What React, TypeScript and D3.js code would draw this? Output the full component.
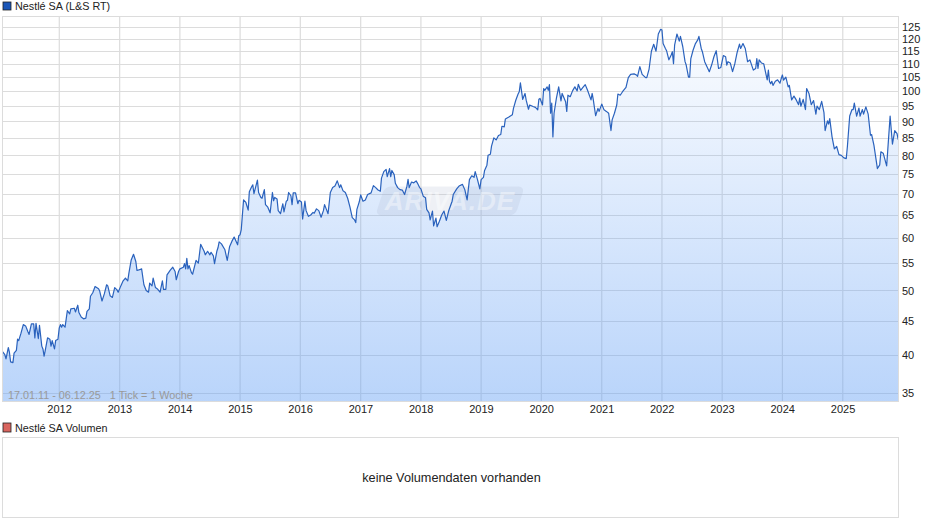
import * as d3 from "d3";

// [week of year, close], one list per year
const y2011 = [[3,40.4],[5,40],[6,39.4],[8,41],[9,40.3],[10,39],[12,38.9],[13,40.2],[15,40.6],[16,42.2],[17,42],[19,43.1],[21,44.4],[23,44.2],[25,43.3],[26,42.9],[28,44.5],[30,44.5],[31,42.4],[32,44.6],[34,42.3],[35,44.3],[37,41.2],[38,40.8],[39,39.8],[40,40.6],[42,42.4],[44,42.2],[45,41.2],[46,42],[48,40.8],[49,42],[51,42.2]];
const y2012 = [[0,43.9],[1,44.4],[2,44],[3,44.4],[5,44],[6,45.3],[7,46.6],[9,46.1],[10,46.9],[13,47],[14,46.4],[16,47.5],[17,46.3],[19,45.6],[21,45.3],[23,45.4],[24,46.5],[26,46.9],[27,49],[29,49.6],[31,50.7],[34,50.3],[35,49.9],[37,48.2],[39,49.4],[41,51],[42,50.8],[44,49.1],[46,48.8],[48,50.5],[50,50.1],[51,49.7]];
const y2013 = [[1,50.8],[3,51.7],[5,52.2],[7,51.7],[8,53.1],[10,55.6],[12,56.7],[14,55.3],[15,53.6],[18,53.8],[19,53.9],[21,51],[23,50],[25,49.7],[26,51.3],[28,50.8],[29,52.2],[31,50.5],[33,50.2],[35,49.7],[37,51.7],[38,50.2],[40,50.2],[41,52.8],[44,53.7],[46,54.2],[48,53.4],[49,51.9],[51,53.4]];
const y2014 = [[0,53.9],[3,54.2],[4,54.9],[5,53.9],[6,55.9],[7,53.9],[8,54.5],[10,53.2],[11,52.9],[14,55.5],[16,55],[18,58.7],[21,57.3],[22,56.6],[24,57.3],[26,56.6],[27,57.1],[29,56.4],[30,54.9],[32,57.3],[33,58],[34,59.2],[36,58.8],[39,57.6],[41,55.5],[43,58.2],[45,59.3],[47,60.2],[50,58.6],[51,60.5]];
const y2015 = [[0,60.7],[1,61.8],[3,68.5],[5,67.9],[7,66.1],[8,70.5],[10,71.7],[11,72.2],[12,70],[15,73.4],[16,70.3],[18,69.1],[19,68.9],[21,71],[22,67.4],[24,66.8],[26,65.5],[28,70.3],[29,68.3],[30,69.1],[32,68.7],[33,66],[35,65.3],[37,67.6],[38,65.7],[40,68.2],[41,68.4],[42,70.3],[44,69.5],[45,67.4],[46,70.2],[48,70.2],[50,67.6],[51,68.4]];
const y2016 = [[1,68],[2,64.1],[4,68.2],[5,66],[7,64.7],[9,65],[11,65.6],[12,65.4],[14,66.4],[16,66],[18,64.5],[20,66],[21,67.4],[23,66],[24,65.3],[26,70.3],[28,71.5],[30,71.9],[32,73.2],[34,71.5],[35,72.2],[37,70.7],[39,70.3],[41,68.9],[43,66.8],[45,64.4],[47,63.9],[48,63.3],[49,66.3],[51,68]];
const y2017 = [[0,69.7],[2,68.2],[4,68.5],[6,69.8],[9,70.2],[11,72],[13,71.5],[15,70.9],[17,70.6],[18,73.9],[20,75.6],[22,76.2],[23,74.3],[25,76.4],[26,74.3],[27,75.9],[29,74.8],[30,72.6],[32,71.5],[34,71],[36,70.9],[38,69.8],[40,71.8],[41,73.6],[42,71.5],[44,72.9],[46,72.7],[48,73.2],[49,72.7],[51,71.5]];
const y2018 = [[0,71.2],[2,69.4],[4,69],[5,66.3],[7,65.5],[8,63.9],[10,65.9],[11,62.6],[13,64.3],[14,62.4],[16,63.6],[18,65],[20,65.9],[22,63.8],[24,65.9],[27,68.2],[28,69.8],[31,71.2],[33,71.9],[36,72.3],[38,71],[40,68.5],[42,73.5],[44,74.5],[46,74.1],[47,75.6],[49,73.5],[51,71.2]];
const y2019 = [[0,73.5],[2,74.1],[3,75.9],[5,77.3],[6,80],[8,80.3],[9,82.6],[11,85],[13,84.4],[15,85.7],[17,86],[18,88.5],[20,88.3],[21,90.8],[24,91.4],[27,92.1],[28,94.2],[30,96.9],[32,99],[33,99.8],[34,102.9],[36,97.2],[38,99.2],[39,96.9],[41,93.9],[42,95.3],[45,94.8],[47,94.5],[49,93.7],[50,97.2],[51,97.5]];
const y2020 = [[1,95.3],[2,100.9],[3,100.3],[5,101.5],[6,100.3],[7,102.3],[8,92.6],[9,95.9],[10,85.3],[11,92.6],[13,97.5],[15,101.5],[17,96.7],[18,99.2],[21,96.4],[22,93.2],[23,98.6],[25,98.1],[27,100.1],[29,101.5],[31,100.1],[32,102.4],[34,100.3],[36,101.3],[38,102.3],[40,100.3],[43,97],[44,99.2],[45,97],[47,91.8],[49,94.2],[50,93.2]];
const y2021 = [[0,95.6],[2,93.7],[4,93.2],[6,92.6],[8,87.2],[9,90.5],[11,92.6],[13,95.3],[14,99],[16,98.6],[18,99.8],[21,101.3],[23,104.8],[25,106],[28,106.2],[30,105.8],[31,105.3],[33,108.9],[35,106],[38,104.8],[39,104.8],[41,108],[43,114.9],[45,117.7],[47,114.9],[49,122],[51,124]];
const y2022 = [[0,123.7],[1,118],[3,116],[4,115.1],[6,111.5],[8,113.4],[9,114.7],[10,110],[11,117.5],[13,122],[15,119],[16,121],[18,116.8],[20,110.8],[21,109.5],[23,105],[24,105],[25,112],[27,115.4],[29,118],[31,119.5],[32,121],[34,116],[35,114.7],[37,110.8],[39,108.9],[41,107],[43,109.5],[45,112.7],[47,115.1],[49,108.2],[51,108.6]];
const y2023 = [[1,113.2],[3,112.7],[4,109.5],[5,110.8],[7,110.3],[9,107],[11,110.1],[13,114.5],[15,117.8],[16,116],[18,118],[20,116],[22,110.8],[24,111.5],[27,107.6],[29,108.2],[30,112],[31,108.2],[32,111.5],[34,110.3],[36,110],[39,104],[40,107.6],[41,103.4],[42,102.6],[43,103.5],[44,102],[46,103.5],[48,104],[50,102.8],[51,104.3]];
const y2024 = [[0,105.8],[1,103.9],[3,105],[5,101.5],[6,102],[8,97],[10,98.3],[12,97],[14,95.4],[15,97.6],[16,94.9],[18,97.2],[20,93.8],[21,100.9],[23,99.2],[25,95.4],[27,96.8],[29,92.3],[30,94.9],[32,93.8],[34,96.5],[36,92.8],[37,87.2],[39,90.2],[40,89.2],[41,90.9],[43,85.3],[45,81.8],[47,82.5],[49,80.2],[51,80]];
const y2025 = [[1,79.3],[3,79.1],[4,82.5],[6,91.7],[8,93.8],[9,93.8],[10,95.9],[12,91.7],[14,94.3],[15,91.7],[17,93.8],[18,92.3],[20,94.7],[22,92.3],[24,85.8],[25,86],[27,82.8],[30,76.4],[32,77.4],[33,81],[35,80.6],[38,77.1],[39,81.7],[41,91.7],[43,83.2],[45,87.2],[47,86.3],[48,84.5]];

const allYears = [y2011,y2012,y2013,y2014,y2015,y2016,y2017,y2018,y2019,y2020,y2021,y2022,y2023,y2024,y2025];
const yearTicks = [2012,2013,2014,2015,2016,2017,2018,2019,2020,2021,2022,2023,2024,2025];
const priceTicks = [35,40,45,50,55,60,65,70,75,80,85,90,95,100,105,110,115,120,125];

const series = allYears.flatMap((rows, i) =>
    rows.map(([week, close]) => ({ date: new Date(2011 + i, 0, 1 + 7 * week), close }))
);

const FONT = "'Liberation Sans', Arial, sans-serif";
const left = 2;
const right = 898;
const top = 16;
const bottom = 401;

const x = d3.scaleTime().domain([new Date(2011, 0, 17), new Date(2025, 11, 6)]).range([left - 0.3, right + 0.7]);
const y = d3.scaleLog().domain([35, 125]).range([393, 27]);

const line = d3.line<{ date: Date; close: number }>().x((d) => x(d.date)).y((d) => y(d.close));
const area = d3
    .area<{ date: Date; close: number }>()
    .x((d) => x(d.date))
    .y0(bottom)
    .y1((d) => y(d.close));

const snap = (v: number) => Math.round(v) + 0.5;

export default function App() {
    return (
        <svg
            width={940}
            height={526}
            style={{ position: "absolute", left: 0, top: 0, fontFamily: FONT }}
        >
            <defs>
                <linearGradient id="fill" gradientUnits="userSpaceOnUse" x1={0} x2={0} y1={24} y2={bottom}>
                    <stop offset="0" stopColor="rgb(100,160,245)" stopOpacity={0.02} />
                    <stop offset="1" stopColor="rgb(100,160,245)" stopOpacity={0.45} />
                </linearGradient>
            </defs>

            <rect x={3} y={2} width={8} height={8} fill="#1a56b8" stroke="#222" strokeWidth={0.8} />
            <text x={15} y={9.5} fontSize={10.8} fill="#222">Nestlé SA (L&amp;S RT)</text>

            {priceTicks.map((t) => (
                <line key={t} x1={left} x2={right} y1={snap(y(t))} y2={snap(y(t))} stroke="#dcdcdc" />
            ))}
            {yearTicks.map((t) => {
                const px = x(new Date(t, 0, 1));
                return <line key={t} x1={px} x2={px} y1={top} y2={bottom} stroke="#dcdcdc" strokeWidth={1.2} />;
            })}

            <path d={area(series)!} fill="url(#fill)" />

            {/* watermark */}
            <g transform="translate(450,201)">
                <rect x={-70} y={-14.5} width={140} height={29} rx={6} fill="#a8b4cc" opacity={0.2} transform="skewX(-18)" />
                <text x={0} y={9} textAnchor="middle" fontSize={26} fontWeight="bold" fontStyle="italic" fill="#fff" opacity={0.4} letterSpacing={1}>ARIVA.DE</text>
            </g>

            <path d={line(series)!} fill="none" stroke="#2a62bd" strokeWidth={1.2} strokeLinejoin="round" />

            <rect x={left + 0.5} y={top + 0.5} width={right - left} height={bottom - top} fill="none" stroke="#dcdcdc" />

            <text x={8} y={399} fontSize={10.8} fill="#999" xmlSpace="preserve">17.01.11 - 06.12.25   1 Tick = 1 Woche</text>

            {yearTicks.map((t) => (
                <text key={t} x={x(new Date(t, 0, 1)) + 0.3} y={413} textAnchor="middle" fontSize={11} fill="#222">{t}</text>
            ))}
            {priceTicks.map((t) => (
                <text key={t} x={902} y={y(t) + 4.3} fontSize={11} fill="#222">{t}</text>
            ))}

            <rect x={3} y={423} width={8} height={9} fill="#d9655f" stroke="#222" strokeWidth={0.8} />
            <text x={15} y={431.5} fontSize={10.8} fill="#222">Nestlé SA Volumen</text>

            <rect x={left + 0.5} y={437.5} width={right - left} height={80} fill="#fff" stroke="#dcdcdc" />
            <text x={451.5} y={482} textAnchor="middle" fontSize={12.7} fill="#222">keine Volumendaten vorhanden</text>
        </svg>
    );
}
